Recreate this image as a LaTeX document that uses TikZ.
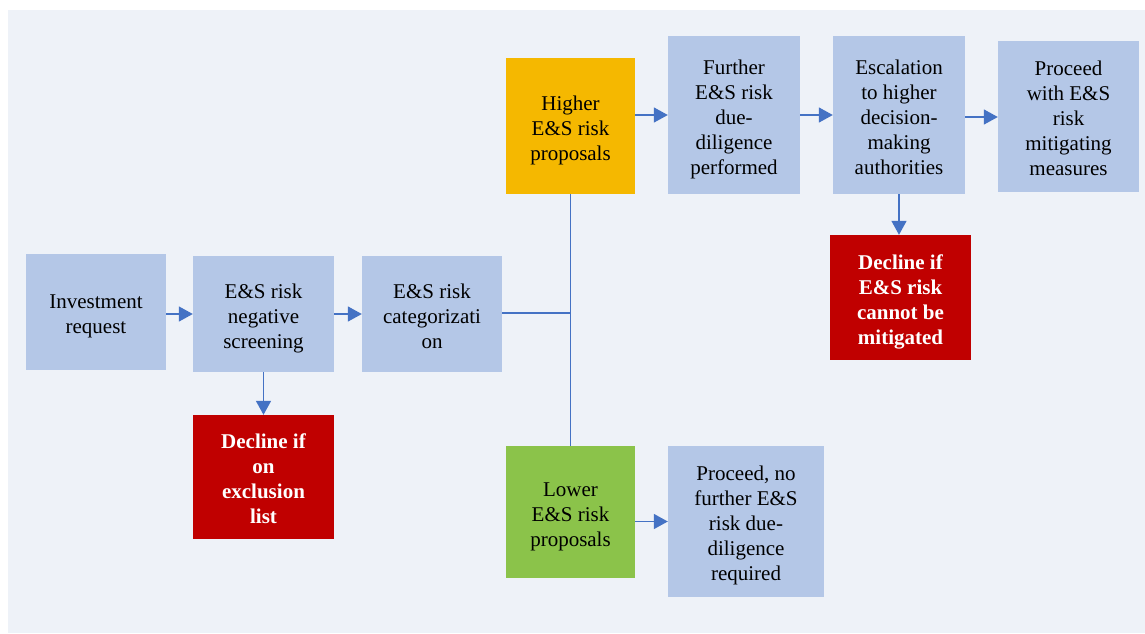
\documentclass[tikz,border=0pt]{standalone}
\usepackage{fontspec}
\setmainfont{Liberation Serif}
\usetikzlibrary{arrows.meta}
\definecolor{bgpanel}{HTML}{EEF2F8}
\definecolor{boxblue}{HTML}{B4C7E7}
\definecolor{boxorange}{HTML}{F5B800}
\definecolor{boxgreen}{HTML}{8BC34A}
\definecolor{boxred}{HTML}{C00000}
\definecolor{linkblue}{HTML}{4472C4}
% centred block of lines, drawn a little below the box centre
\newcommand\boxlines[1]{\raisebox{-4pt}[\height][\depth]{\begin{tabular}{@{}c@{}}#1\end{tabular}}}
\tikzset{
  stagebox/.style={fill=boxblue, draw=none, inner sep=0pt,
    text=black, font=\fontsize{21}{25}\selectfont},
  highbox/.style={stagebox, fill=boxorange},
  lowbox/.style={stagebox, fill=boxgreen},
  declinebox/.style={stagebox, fill=boxred, text=white,
    font=\fontsize{21}{25}\selectfont\bfseries},
  link/.style={draw=linkblue, line width=1.5pt},
  arr/.style={link, -{Triangle[length=14pt,width=15pt]}},
}
\begin{document}
\begin{tikzpicture}[x=1pt,y=-1pt]
  \useasboundingbox (0,0) rectangle (1145,633);
  \fill[bgpanel] (8,10) rectangle (1145,633);

  % left chain
  \node[stagebox, minimum width=140pt, minimum height=116pt] (inv) at (96,312)
    {\boxlines{Investment\\request}};
  \node[stagebox, minimum width=141pt, minimum height=116pt] (scr) at (263.5,314)
    {\boxlines{E\&S risk\\negative\\screening}};
  \node[stagebox, minimum width=140pt, minimum height=116pt] (cat) at (432,314)
    {\boxlines{E\&S risk\\categorizati\\on}};
  \node[declinebox, minimum width=141pt, minimum height=124pt] (dec1) at (263.5,477)
    {\boxlines{Decline if\\on\\exclusion\\list}};

  % higher-risk branch
  \node[highbox, minimum width=129pt, minimum height=136pt] (high) at (570.5,126)
    {\boxlines{Higher\\E\&S risk\\proposals}};
  \node[stagebox, minimum width=132pt, minimum height=158pt] (dd) at (734,115)
    {\boxlines{Further\\E\&S risk\\due-\\diligence\\performed}};
  \node[stagebox, minimum width=132pt, minimum height=158pt] (esc) at (899,115)
    {\boxlines{Escalation\\to higher\\decision-\\making\\authorities}};
  \node[stagebox, minimum width=141pt, minimum height=151pt] (mit) at (1068.5,116.5)
    {\boxlines{Proceed\\with E\&S\\risk\\mitigating\\measures}};
  \node[declinebox, minimum width=141pt, minimum height=125pt] (dec2) at (900.5,297.5)
    {\boxlines{Decline if\\E\&S risk\\cannot be\\mitigated}};

  % lower-risk branch
  \node[lowbox, minimum width=129pt, minimum height=132pt] (low) at (570.5,512)
    {\boxlines{Lower\\E\&S risk\\proposals}};
  \node[stagebox, minimum width=156pt, minimum height=151pt] (pno) at (746,521.5)
    {\boxlines{Proceed, no\\further E\&S\\risk due-\\diligence\\required}};

  % connectors
  \coordinate (split) at (570.5,313);
  \draw[arr] (inv.east |- scr.west) -- (scr.west);
  \draw[arr] (scr.east) -- (cat.west |- scr.east);
  \draw[arr] (scr.south) -- (scr.south |- dec1.north);
  \draw[link] (cat.east |- split) -- (split);
  \draw[link] (high.south) -- (low.north);
  \draw[arr] (high.east |- dd.west) -- (dd.west);
  \draw[arr] (dd.east) -- (esc.west);
  \draw[arr] (esc.east |- 0,117) -- (mit.west |- 0,117);
  \draw[arr] (esc.south) -- (esc.south |- dec2.north);
  \draw[arr] (low.east |- pno.west) -- (pno.west);
\end{tikzpicture}
\end{document}
